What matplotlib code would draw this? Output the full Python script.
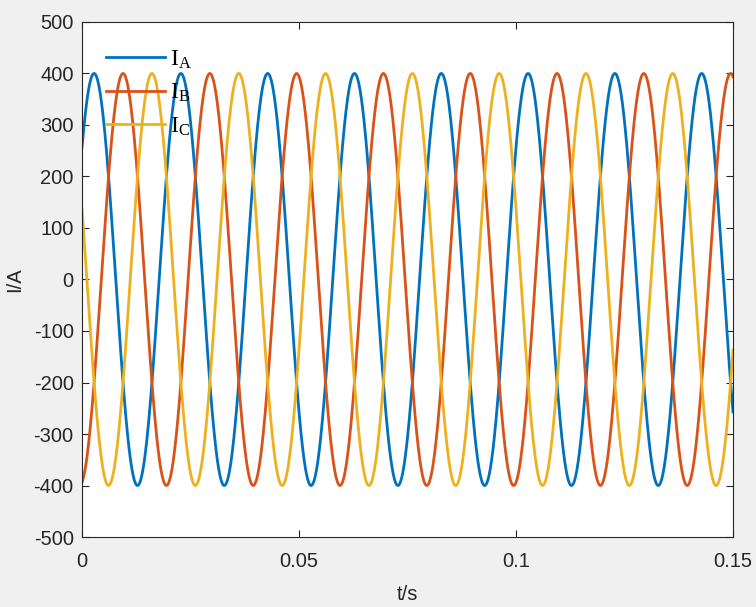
import numpy as np
import matplotlib.pyplot as plt

# three-phase currents, parameters
t_end = 0.15
freq = 50.0            # Hz, period ~0.02 s
amplitude = 400.0      # A
phase_names = [r'$\mathrm{I_A}$', r'$\mathrm{I_B}$', r'$\mathrm{I_C}$']
phase_deg = [40.0, -80.0, 160.0]
colors = ['#0072BD', '#D95319', '#EDB120']

x_ticks = [0, 0.05, 0.1, 0.15]
x_ticklabels = ['0', '0.05', '0.1', '0.15']
y_ticks = list(range(-500, 501, 100))

t = np.linspace(0, t_end, 3000)

plt.rcParams['font.family'] = ['Liberation Sans', 'DejaVu Sans']
plt.rcParams['axes.unicode_minus'] = False
plt.rcParams['mathtext.fontset'] = 'custom'
plt.rcParams['mathtext.rm'] = 'Liberation Serif'

fig = plt.figure(figsize=(7.56, 6.07), dpi=100, facecolor='#F0F0F0')
ax = fig.add_axes([0.1085, 0.1153, 0.8611, 0.8485])
ax.set_facecolor('white')

for name, ph, c in zip(phase_names, phase_deg, colors):
    y = amplitude * np.sin(2 * np.pi * freq * t + np.deg2rad(ph))
    ax.plot(t, y, color=c, linewidth=2.0, label=name)

ax.set_xlim(0, t_end)
ax.set_ylim(-500, 500)
ax.set_xticks(x_ticks)
ax.set_xticklabels(x_ticklabels)
ax.set_yticks(y_ticks)
ax.tick_params(direction='in', top=True, right=True, length=5, width=0.8,
               labelsize=14.5, colors='#262626')
ax.tick_params(axis='x', pad=11)
ax.tick_params(axis='y', pad=6)
for s in ax.spines.values():
    s.set_color('#262626')
    s.set_linewidth(0.8)

ax.set_xlabel('t/s', fontsize=14.5, color='#262626', labelpad=10)
ax.set_ylabel('I/A', fontsize=14.5, color='#262626', labelpad=7)

leg = ax.legend(loc='upper left', frameon=False, handlelength=2.5,
                fontsize=17, labelspacing=0.48, bbox_to_anchor=(0.004, 0.99),
                handletextpad=0.2)

fig.savefig('out.png', dpi=100, facecolor=fig.get_facecolor())
